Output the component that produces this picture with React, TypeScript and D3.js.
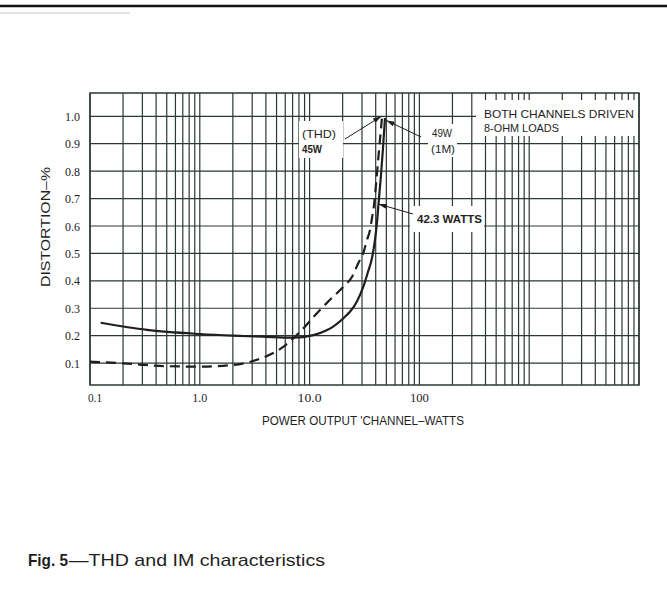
import * as d3 from 'd3'

const W = 667
const H = 604

// axis ticks
const xTickVals = [0.1, 1, 10, 100]
const xTickLabels = ['0.1', '1.0', '10.0', '100']
const yTickVals = [0.1, 0.2, 0.3, 0.4, 0.5, 0.6, 0.7, 0.8, 0.9, 1.0]
const yTickLabels = ['0.1', '0.2', '0.3', '0.4', '0.5', '0.6', '0.7', '0.8', '0.9', '1.0']

// THD curve (dashed), watts / distortion %
const thdWatts = [0.1, 0.2, 0.47, 1.0, 2.0, 2.9, 3.6, 5.0, 5.8, 7.1, 8.2, 11.6, 15, 20.5, 24.3, 27.8, 30.8, 33.3, 35.5, 37, 38.6, 40.6, 42.9, 45.6]
const thdDist = [0.105, 0.099, 0.089, 0.087, 0.093, 0.105, 0.117, 0.143, 0.16, 0.19, 0.214, 0.281, 0.327, 0.38, 0.414, 0.465, 0.5, 0.549, 0.585, 0.629, 0.676, 0.768, 0.877, 0.994]

// IM curve (solid)
const imWatts = [0.125, 0.33, 1.0, 2.0, 3.8, 7.1, 10.8, 14.3, 16.4, 21.8, 23.3, 26.9, 30.8, 34, 37, 39.4, 41.1, 42.4, 44.7, 46.6, 48.6]
const imDist = [0.247, 0.221, 0.206, 0.2, 0.196, 0.1925, 0.202, 0.22, 0.233, 0.275, 0.287, 0.324, 0.378, 0.432, 0.483, 0.549, 0.614, 0.68, 0.786, 0.884, 0.994]

// annotation tips (watts, distortion)
const thdPeak = [45, 1.0]
const imPeak = [50, 0.985]
const ratedPt = [42.3, 0.68]

const GRID = '#2c3833'
const INK = '#1e1e1e'

export default function App() {
  const left = 90, right = 639, top = 93, bottom = 385
  const x = d3.scaleLog().domain([0.1, 10000]).range([left, right])
  const y = d3.scaleLinear().domain([0.02, 1.085]).range([bottom, top])

  const line = d3.line<[number, number]>()
    .x(d => x(d[0]))
    .y(d => y(d[1]))
    .curve(d3.curveMonotoneX)

  const thd = line(thdWatts.map((w, i) => [w, thdDist[i]]) as [number, number][])
  const im = line(imWatts.map((w, i) => [w, imDist[i]]) as [number, number][])

  const vGrid = x.ticks()
  const sans = '"Liberation Sans", Arial, sans-serif'
  const serif = '"Liberation Serif", "Times New Roman", serif'
  const xLabelW = [14, 15, 24, 19]

  return (
    <svg width={W} height={H} style={{ position: 'absolute', left: 0, top: 0, background: '#fff' }}>
      <defs>
        <marker id="arr" viewBox="0 0 10 6" refX="10" refY="3" markerWidth="10" markerHeight="5"
          markerUnits="userSpaceOnUse" orient="auto">
          <path d="M0,0 L10,3 L0,6 z" fill={INK} />
        </marker>
      </defs>
      <rect width={W} height={H} fill="#fff" />
      <line x1={0} x2={W} y1={6} y2={6} stroke="#111" strokeWidth={2.5} />
      <line x1={0} x2={130} y1={13} y2={13} stroke="#c8c8c8" strokeWidth={1} />

      {/* grid */}
      <g stroke={GRID} strokeWidth={1.2}>
        {vGrid.map((v, i) => (
          <line key={'v' + i} x1={x(v)} x2={x(v)} y1={top} y2={bottom} />
        ))}
        {yTickVals.map((v, i) => (
          <line key={'h' + i} x1={left} x2={right} y1={y(v)} y2={y(v)} />
        ))}
        <rect x={left} y={top} width={right - left} height={bottom - top} fill="none" strokeWidth={1.5} />
      </g>

      {/* label backgrounds */}
      <g fill="#fff">
        <rect x={299} y={121} width={44} height={37} />
        <rect x={428} y={124} width={29} height={33} />
        <rect x={410} y={206} width={74} height={26} />
        <rect x={476} y={100} width={162} height={36} />
      </g>

      {/* curves */}
      <path d={thd || ''} fill="none" stroke={INK} strokeWidth={2.2} strokeDasharray="10,6" />
      <path d={im || ''} fill="none" stroke={INK} strokeWidth={2.2} />

      {/* leaders */}
      <g stroke={INK} strokeWidth={1}>
        <line x1={345} y1={139} x2={x(thdPeak[0])} y2={y(thdPeak[1])} markerEnd="url(#arr)" />
        <line x1={421} y1={137} x2={x(imPeak[0])} y2={y(imPeak[1])} markerEnd="url(#arr)" />
        <line x1={413} y1={214} x2={x(ratedPt[0])} y2={y(ratedPt[1])} markerEnd="url(#arr)" />
      </g>

      {/* tick labels */}
      <g fontFamily={serif} fontSize={13} fill={INK}>
        {xTickVals.map((v, i) => (
          <text key={'xt' + i} x={x(v) + (i === 0 ? 5 : 0)} y={402} textAnchor="middle"
            textLength={xLabelW[i]} lengthAdjust="spacingAndGlyphs">{xTickLabels[i]}</text>
        ))}
        {yTickVals.map((v, i) => (
          <text key={'yt' + i} x={80} y={y(v)} dy="0.35em" textAnchor="end"
            textLength={15} lengthAdjust="spacingAndGlyphs">{yTickLabels[i]}</text>
        ))}
      </g>

      {/* axis titles */}
      <g fontFamily={sans} fill={INK}>
        <text x={262} y={425} fontSize={12.5} textLength={202} lengthAdjust="spacingAndGlyphs">POWER OUTPUT 'CHANNEL–WATTS</text>
        <text transform="translate(50,227) rotate(-90)" textAnchor="middle" fontSize={12.5}
          textLength={120} lengthAdjust="spacingAndGlyphs">DISTORTION–%</text>

        <text x={484} y={118} fontSize={11.5} textLength={150} lengthAdjust="spacingAndGlyphs">BOTH CHANNELS DRIVEN</text>
        <text x={484} y={132} fontSize={11.5} textLength={75} lengthAdjust="spacingAndGlyphs">8-OHM LOADS</text>

        <text x={302} y={138} fontSize={11} textLength={34} lengthAdjust="spacingAndGlyphs">(THD)</text>
        <text x={302} y={153} fontSize={11} fontWeight="bold" textLength={20} lengthAdjust="spacingAndGlyphs">45W</text>
        <text x={432} y={137} fontSize={11} textLength={20} lengthAdjust="spacingAndGlyphs">49W</text>
        <text x={431} y={153} fontSize={11} textLength={24} lengthAdjust="spacingAndGlyphs">(1M)</text>
        <text x={417} y={223} fontSize={11} fontWeight="bold" textLength={65} lengthAdjust="spacingAndGlyphs">42.3 WATTS</text>
      </g>

      {/* caption */}
      <g fontFamily={sans} fill={INK} fontSize={17}>
        <text x={28} y={566} fontWeight="bold" textLength={40} lengthAdjust="spacingAndGlyphs">Fig. 5</text>
        <text x={69} y={566} textLength={256} lengthAdjust="spacingAndGlyphs">—THD and IM characteristics</text>
      </g>
    </svg>
  )
}
